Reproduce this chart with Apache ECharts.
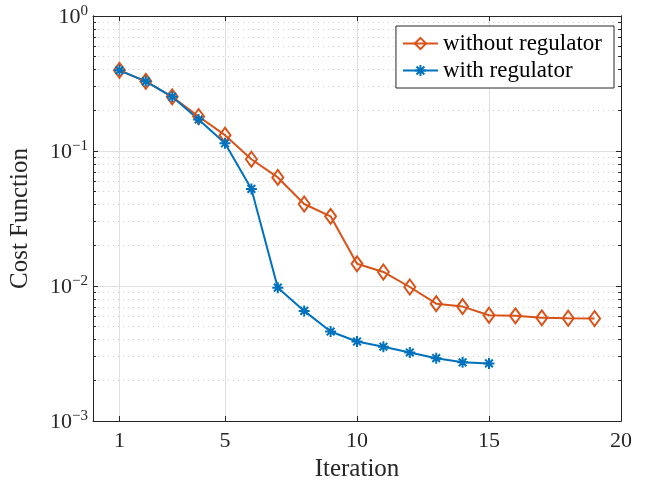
<!DOCTYPE html>
<html><head><meta charset="utf-8">
<script src="https://cdn.jsdelivr.net/npm/echarts@6/dist/echarts.min.js"></script>
<style>html,body{margin:0;padding:0;background:#fff}#c{width:656px;height:487px}</style>
</head><body><div id="c"></div>
<script>
const iterWithout = [1,2,3,4,5,6,7,8,9,10,11,12,13,14,15,16,17,18,19];
const costWithout = [0.396,0.328,0.252,0.180,0.131,0.0869,0.0637,0.0405,0.0328,0.0146,0.0127,0.00983,0.0074,0.00704,0.00607,0.00601,0.00581,0.00577,0.00574];
const iterWith = [1,2,3,4,5,6,7,8,9,10,11,12,13,14,15];
const costWith = [0.396,0.328,0.252,0.171,0.114,0.0524,0.00972,0.00654,0.00460,0.00388,0.00355,0.00322,0.00292,0.00272,0.00267];
const xTicks = [1,5,10,15,20];
const yMajor = [0.001,0.01,0.1,1];
const yMinor = [0.002,0.003,0.004,0.005,0.006,0.007,0.008,0.009,0.02,0.03,0.04,0.05,0.06,0.07,0.08,0.09,0.2,0.3,0.4,0.5,0.6,0.7,0.8,0.9];

const FONT = 'Liberation Serif';
const AX = '#262626';
const chart = echarts.init(document.getElementById('c'), null, {renderer:'canvas'});
const zip = (xs, ys) => xs.map((x, i) => [x, ys[i]]);
const logAxis = (pos, ticks, len, extra) => Object.assign({
  type:'log', logBase:10, min:0.001, max:1, position:pos,
  axisLine:{show:true, onZero:false, lineStyle:{color:AX, width:1}},
  axisTick:{show:true, inside:true, length:len, customValues:ticks, lineStyle:{color:AX}},
  axisLabel:{show:false}, splitLine:{show:false}
}, extra || {});
const option = {
  animation:false,
  backgroundColor:'#fff',
  grid:{left:93, right:35, top:16, bottom:64, containLabel:false},
  legend:{
    orient:'vertical', right:42, top:26,
    backgroundColor:'#fff', borderColor:AX, borderWidth:1,
    padding:[6,12,6,6], itemGap:4, itemWidth:35, itemHeight:14,
    textStyle:{fontFamily:FONT, fontSize:23, color:'#000'},
    data:['without regulator','with regulator']
  },
  xAxis:[
    {type:'value', min:0, max:20, position:'bottom',
     axisLine:{show:true, onZero:false, lineStyle:{color:AX}},
     axisTick:{show:true, inside:true, length:5, customValues:xTicks, lineStyle:{color:AX}},
     axisLabel:{customValues:xTicks, color:AX, fontFamily:FONT, fontSize:22, margin:9},
     splitLine:{show:true, lineStyle:{color:'#dfdfdf', width:1}},
     name:'Iteration', nameLocation:'middle', nameGap:36,
     nameTextStyle:{fontFamily:FONT, fontSize:25, color:AX}},
    {type:'value', min:0, max:20, position:'top',
     axisLine:{show:true, onZero:false, lineStyle:{color:AX}},
     axisTick:{show:true, inside:true, length:5, customValues:xTicks, lineStyle:{color:AX}},
     axisLabel:{show:false}, splitLine:{show:false}}
  ],
  yAxis:[
    logAxis('left', yMajor, 5, {
      axisLabel:{show:true, customValues:yMajor, margin:5,
        formatter:function(v){const e=Math.round(Math.log10(v)); return '{b|10}{s|'+(e<0?'\u2212'+(-e):e)+'}';},
        rich:{b:{fontFamily:FONT, fontSize:22, color:AX, padding:[3,0,0,0]}, s:{fontFamily:FONT, fontSize:15, color:AX, padding:[0,0,10,0]}}},
      splitLine:{show:true, lineStyle:{color:'#dfdfdf', width:1}},
      name:'Cost Function', nameLocation:'middle', nameGap:60,
      nameTextStyle:{fontFamily:FONT, fontSize:25, color:AX}
    }),
    logAxis('left', yMinor, 3, {splitLine:{show:true, lineStyle:{color:'#cccccc', width:1, type:[1,4]}}}),
    logAxis('right', yMajor, 5),
    logAxis('right', yMinor, 3)
  ],
  series:[
    {name:'without regulator', type:'line', xAxisIndex:0, yAxisIndex:0,
     data:zip(iterWithout, costWithout),
     symbol:'diamond', symbolSize:[11,15],
     lineStyle:{color:'#D95319', width:2},
     itemStyle:{color:'rgba(255,255,255,0)', borderColor:'#D95319', borderWidth:2}},
    {name:'with regulator', type:'line', xAxisIndex:0, yAxisIndex:0,
     data:zip(iterWith, costWith),
     symbol:'path://M0,-1L0,1M-1,0L1,0M-0.7,-0.7L0.7,0.7M-0.7,0.7L0.7,-0.7',
     symbolSize:11,
     lineStyle:{color:'#0072BD', width:2},
     itemStyle:{color:'#0072BD', borderColor:'#0072BD', borderWidth:2}}
  ]
};
chart.setOption(option);
</script></body></html>
